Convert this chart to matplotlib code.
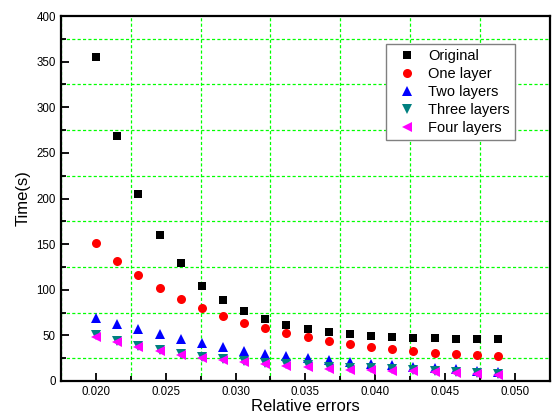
import matplotlib
matplotlib.use("Agg")
import matplotlib.pyplot as plt
from matplotlib.ticker import MultipleLocator

plt.rcParams['font.family'] = ['Liberation Sans', 'DejaVu Sans']

rel_errors = [0.0200, 0.0215, 0.0230, 0.0246, 0.0261, 0.0276, 0.0291, 0.0306, 0.0321, 0.0336,
              0.0352, 0.0367, 0.0382, 0.0397, 0.0412, 0.0427, 0.0443, 0.0458, 0.0473, 0.0488]
original = [355, 268.5, 205, 160.5, 129, 104.5, 88.5, 76.3, 68, 61.4,
            56.6, 53.3, 51.1, 49.3, 48.2, 47.1, 46.8, 46, 45.7, 45.7]
one_layer = [150.8, 131.9, 115.7, 101.9, 90.2, 80.3, 71.6, 63.9, 57.7, 52.2,
             47.9, 43.8, 40.2, 37.6, 34.7, 32.9, 31, 29.2, 28.1, 27]
two_layers = [69.5, 62.5, 56.5, 51, 46, 41.5, 37, 33, 29.5, 27.5,
              25, 22.5, 20.5, 19, 17.5, 15.7, 14, 12.8, 11.3, 9.5]
three_layers = [50, 43.5, 38.5, 34, 30, 26.5, 24, 21.5, 19.5, 18.6,
                17.5, 15.7, 14.6, 13.9, 12.8, 12.1, 11, 9.5, 8.4, 7.7]
four_layers = [48.5, 42.5, 37.3, 32.9, 29, 25.5, 23, 20.5, 19, 16.5,
               15, 13.5, 12.5, 12, 11.3, 11, 9.8, 8.6, 7.7, 6.9]

series = [
    ("Original", original, 's', 'black', 6),
    ("One layer", one_layer, 'o', 'red', 6.5),
    ("Two layers", two_layers, '^', 'blue', 7),
    ("Three layers", three_layers, 'v', '#008080', 7),
    ("Four layers", four_layers, '<', 'magenta', 7),
]

fig = plt.figure(figsize=(5.53, 4.19), dpi=100)
ax = fig.add_axes([0.110, 0.0907, 0.8846, 0.8711])

for label, vals, mk, col, ms in series:
    ax.plot(rel_errors, vals, linestyle='none', marker=mk, color=col,
            markersize=ms, markeredgewidth=0, label=label)

ax.set_xlim(0.0175, 0.0525)
ax.set_ylim(0, 400)
ax.xaxis.set_major_locator(MultipleLocator(0.005))
ax.xaxis.set_minor_locator(MultipleLocator(0.0025))
ax.yaxis.set_major_locator(MultipleLocator(50))
ax.yaxis.set_minor_locator(MultipleLocator(25))
ax.xaxis.set_major_formatter(matplotlib.ticker.FormatStrFormatter('%.3f'))

ax.grid(which='minor', color='#00ff00', linestyle=(0, (2.5, 1.8)), linewidth=0.9)
ax.grid(which='major', visible=False)
ax.set_axisbelow(True)

ax.tick_params(which='both', direction='in', top=False, right=False, labelsize=8.3, width=1.3)
ax.tick_params(which='major', length=6)
ax.tick_params(which='minor', length=3.5)
for s in ax.spines.values():
    s.set_linewidth(1.6)

ax.set_xlabel("Relative errors", fontsize=12, labelpad=1)
ax.set_ylabel("Time(s)", fontsize=12, labelpad=4)

leg = ax.legend(loc='upper left', bbox_to_anchor=(0.664, 0.923), fontsize=10.5,
                frameon=True, fancybox=False, edgecolor='#808080', framealpha=1,
                handlelength=2.2, handletextpad=0.4, labelspacing=0.28,
                borderpad=0.33, borderaxespad=0)
leg.get_frame().set_linewidth(1.0)

fig.savefig("out.png", dpi=100)
